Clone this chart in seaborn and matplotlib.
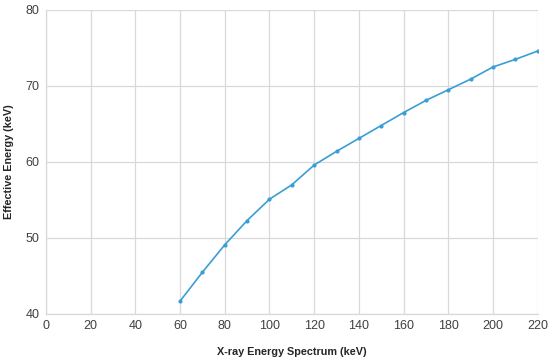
import pandas as pd
import matplotlib.pyplot as plt
import seaborn as sns
from matplotlib.ticker import MultipleLocator

# values
spectrum_kev = [60, 70, 80, 90, 100, 110, 120, 130, 140, 150, 160, 170, 180, 190, 200, 210, 220]
effective_kev = [41.7, 45.5, 49.1, 52.3, 55.1, 57.0, 59.6, 61.4, 63.1, 64.8, 66.5, 68.1, 69.5, 70.9, 72.5, 73.5, 74.6]

df = pd.DataFrame({"spectrum": spectrum_kev, "effective": effective_kev})

sns.set_style("white")
plt.rcParams['font.family'] = ['Liberation Sans', 'DejaVu Sans']

fig = plt.figure(figsize=(5.5, 3.63), dpi=100)
ax = fig.add_axes([0.0836, 0.135, 0.894, 0.8375])

sns.lineplot(data=df, x="spectrum", y="effective", ax=ax, color="#3a9ed6",
             linewidth=1.2, marker="o", markersize=3, markeredgewidth=0)

ax.set_xlim(0, 220)
ax.set_ylim(40, 80)
ax.xaxis.set_major_locator(MultipleLocator(20))
ax.yaxis.set_major_locator(MultipleLocator(10))
ax.xaxis.set_minor_locator(MultipleLocator(4))
ax.yaxis.set_minor_locator(MultipleLocator(2))
ax.grid(True, which="major", color="#d9d9d9", linewidth=0.9)
ax.tick_params(which="major", length=0, labelsize=9, colors="#404040", pad=4.5)
ax.tick_params(which="minor", length=3, color="#ebebeb", direction="in")
for side in ["top", "right"]:
    ax.spines[side].set_visible(False)
for side in ["left", "bottom"]:
    ax.spines[side].set_color("#d9d9d9")
    ax.spines[side].set_linewidth(0.9)

ax.set_xlabel("X-ray Energy Spectrum (keV)", fontsize=7.8, fontweight="bold")
ax.set_ylabel("Effective Energy (keV)", fontsize=7.8, fontweight="bold")
ax.xaxis.set_label_coords(0.5, -0.107)
ax.yaxis.set_label_coords(-0.066, 0.5)

fig.savefig("out.png", dpi=100)
